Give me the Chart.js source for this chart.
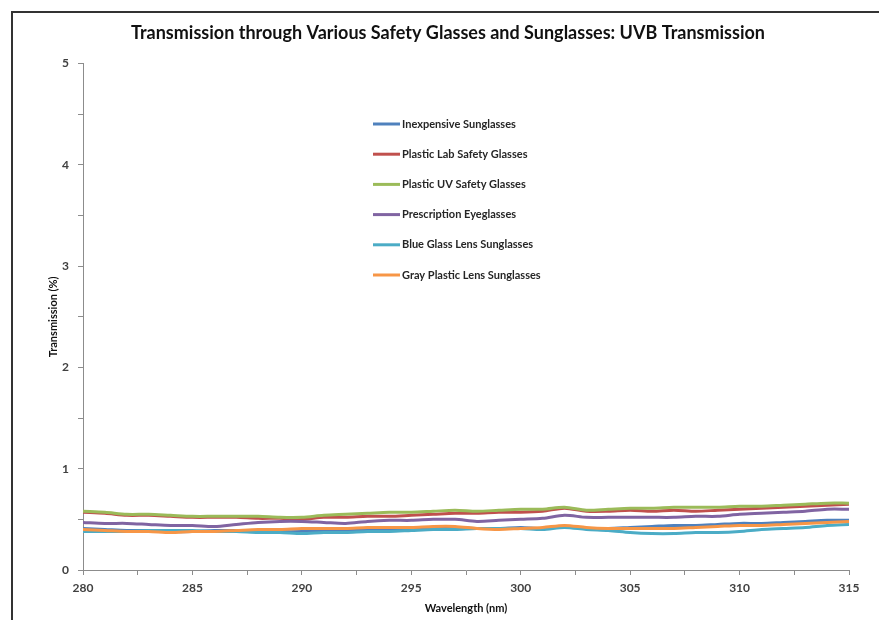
<!DOCTYPE html>
<html>
<head>
<meta charset="utf-8">
<script src="https://cdn.jsdelivr.net/npm/chart.js@4.4.1/dist/chart.umd.min.js"></script>
<style>
  html, body { margin: 0; padding: 0; background: #fff; overflow: hidden; }
  #wrap { position: relative; width: 879px; height: 620px; overflow: hidden; }
  #frameTop { position: absolute; left: 11px; top: 11px; width: 868px; height: 0;
              border-top: 2px solid #333; }
  #frameLeft { position: absolute; left: 11px; top: 11px; width: 0; height: 609px;
               border-left: 2px solid #333; }
  canvas { position: absolute; left: 0; top: 0; }
</style>
</head>
<body>
<div id="wrap">
  <canvas id="myChart" width="879" height="620"></canvas>
  <div id="frameTop"></div>
  <div id="frameLeft"></div>
</div>
<script>
// wavelength in nm, one reading per nm
var wavelengths = [280, 281, 282, 283, 284, 285, 286, 287, 288, 289, 290, 291, 292, 293, 294, 295, 296, 297,
    298, 299, 300, 301, 302, 303, 304, 305, 306, 307, 308, 309, 310, 311, 312, 313, 314, 315];

var seriesNames = ["Inexpensive Sunglasses", "Plastic Lab Safety Glasses", "Plastic UV Safety Glasses",
    "Prescription Eyeglasses", "Blue Glass Lens Sunglasses", "Gray Plastic Lens Sunglasses"];
var seriesColors = ["#4F81BD", "#C0504D", "#9BBB59", "#8064A2", "#4BACC6", "#F79646"];

var inexpensive = [0.41, 0.40, 0.39, 0.39, 0.38, 0.38, 0.39, 0.39, 0.39, 0.38, 0.38, 0.39, 0.39, 0.40, 0.40, 0.40, 0.41, 0.42,
    0.41, 0.41, 0.42, 0.41, 0.43, 0.41, 0.41, 0.42, 0.43, 0.44, 0.44, 0.45, 0.46, 0.46, 0.47, 0.48, 0.49, 0.49];
var plasticLab = [0.57, 0.56, 0.54, 0.54, 0.53, 0.52, 0.52, 0.52, 0.51, 0.51, 0.50, 0.52, 0.52, 0.53, 0.53, 0.54, 0.55, 0.56,
    0.56, 0.57, 0.57, 0.58, 0.61, 0.58, 0.58, 0.59, 0.58, 0.59, 0.58, 0.59, 0.60, 0.61, 0.62, 0.63, 0.64, 0.65];
var plasticUV = [0.58, 0.57, 0.55, 0.55, 0.54, 0.53, 0.53, 0.53, 0.53, 0.52, 0.52, 0.54, 0.55, 0.56, 0.57, 0.57, 0.58, 0.59,
    0.58, 0.59, 0.60, 0.60, 0.62, 0.59, 0.60, 0.61, 0.61, 0.62, 0.62, 0.62, 0.63, 0.63, 0.64, 0.65, 0.66, 0.66];
var prescription = [0.47, 0.46, 0.46, 0.45, 0.44, 0.44, 0.43, 0.45, 0.47, 0.48, 0.48, 0.47, 0.46, 0.48, 0.49, 0.49, 0.50, 0.50,
    0.48, 0.49, 0.50, 0.51, 0.54, 0.52, 0.52, 0.52, 0.52, 0.52, 0.53, 0.53, 0.55, 0.56, 0.57, 0.58, 0.60, 0.60];
var blueGlass = [0.38, 0.38, 0.38, 0.39, 0.39, 0.39, 0.38, 0.38, 0.37, 0.37, 0.36, 0.37, 0.37, 0.38, 0.38, 0.39, 0.40, 0.40,
    0.41, 0.41, 0.41, 0.40, 0.42, 0.40, 0.39, 0.37, 0.36, 0.36, 0.37, 0.37, 0.38, 0.40, 0.41, 0.42, 0.44, 0.45];
var grayPlastic = [0.40, 0.39, 0.38, 0.38, 0.37, 0.38, 0.38, 0.39, 0.40, 0.40, 0.41, 0.41, 0.41, 0.42, 0.42, 0.42, 0.43, 0.43,
    0.41, 0.40, 0.41, 0.42, 0.44, 0.42, 0.41, 0.41, 0.41, 0.41, 0.42, 0.43, 0.44, 0.44, 0.45, 0.46, 0.47, 0.48];

var seriesValues = [inexpensive, plasticLab, plasticUV, prescription, blueGlass, grayPlastic];

var yMajor = [0, 1, 2, 3, 4, 5];
var xMajor = [280, 285, 290, 295, 300, 305, 310, 315];

var FONT = "Lato, 'Open Sans', sans-serif";

var datasets = seriesNames.map(function (name, i) {
    return {
        label: name,
        data: wavelengths.map(function (w, j) { return { x: w, y: seriesValues[i][j] }; }),
        borderColor: seriesColors[i],
        backgroundColor: seriesColors[i],
        borderWidth: 3,
        pointRadius: 0,
        tension: 0.3,
        order: seriesNames.length - i   // later series on top, like the original
    };
});

// legend floating inside the plot
var insideLegend = {
    id: "insideLegend",
    afterDraw: function (chart) {
        var ctx = chart.ctx;
        var x0 = 373, y0 = 124, gap = 30.2;
        ctx.save();
        ctx.font = "bold 11px " + FONT;
        ctx.textBaseline = "middle";
        chart.data.datasets.forEach(function (ds, i) {
            var y = y0 + i * gap;
            ctx.strokeStyle = ds.borderColor;
            ctx.lineWidth = 3;
            ctx.beginPath();
            ctx.moveTo(x0, y);
            ctx.lineTo(x0 + 27, y);
            ctx.stroke();
            ctx.fillStyle = "#262626";
            ctx.fillText(ds.label, x0 + 29, y);
        });
        ctx.restore();
    }
};

new Chart("myChart", {
    type: "line",
    data: { datasets: datasets },
    plugins: [insideLegend],
    options: {
        responsive: false,
        animation: false,
        layout: {
            padding: { left: 47, right: 30, top: 0, bottom: 5 }
        },
        plugins: {
            legend: { display: false },
            tooltip: { enabled: false },
            title: {
                display: true,
                text: "Transmission through Various Safety Glasses and Sunglasses: UVB Transmission",
                color: "#111",
                font: { family: FONT, size: 18, weight: "bold" },
                padding: { top: 22, bottom: 20 }
            }
        },
        scales: {
            x: {
                type: "linear",
                min: 280,
                max: 315,
                afterFit: function (scale) { scale.height = 45; },
                afterBuildTicks: function (scale) {
                    var t = [];
                    for (var v = 280; v <= 315; v += 2.5) t.push({ value: v });
                    scale.ticks = t;
                },
                grid: {
                    drawOnChartArea: false,
                    drawTicks: true,
                    tickLength: 5,
                    color: "#8c8c8c"
                },
                border: { color: "#8c8c8c", width: 1 },
                ticks: {
                    padding: 6,
                    color: "#404040",
                    font: { family: FONT, size: 12, weight: "bold" },
                    maxRotation: 0,
                    autoSkip: false,
                    callback: function (v) { return xMajor.indexOf(v) >= 0 ? String(v) : ""; }
                },
                title: {
                    display: true,
                    text: "Wavelength (nm)",
                    color: "#111",
                    font: { family: FONT, size: 11, weight: "bold" },
                    padding: { top: 0, bottom: 0 }
                }
            },
            y: {
                min: 0,
                max: 5,
                afterFit: function (scale) { scale.width = 36; },
                afterBuildTicks: function (scale) {
                    var t = [];
                    for (var v = 0; v <= 5; v += 0.5) t.push({ value: v });
                    scale.ticks = t;
                },
                grid: {
                    drawOnChartArea: false,
                    drawTicks: true,
                    tickLength: 5,
                    color: "#8c8c8c"
                },
                border: { color: "#8c8c8c", width: 1 },
                ticks: {
                    padding: 9,
                    color: "#404040",
                    font: { family: FONT, size: 12, weight: "bold" },
                    callback: function (v) { return yMajor.indexOf(v) >= 0 ? String(v) : ""; }
                },
                title: {
                    display: true,
                    text: "Transmission (%)",
                    color: "#111",
                    font: { family: FONT, size: 11, weight: "bold" },
                    padding: { top: 0, bottom: 0 }
                }
            }
        }
    }
});
</script>
</body>
</html>
